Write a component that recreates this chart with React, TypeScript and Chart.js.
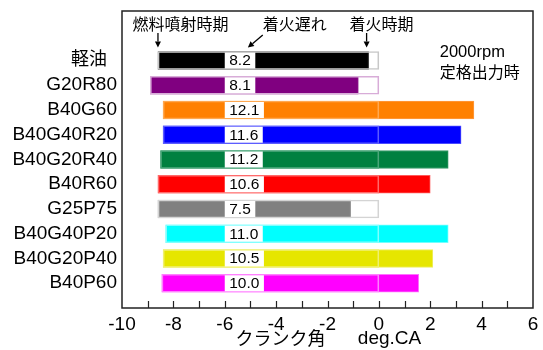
import React, { useEffect, useRef } from 'react';
import { Chart, registerables } from 'chart.js';

Chart.register(...registerables);

// Fuels, injection timing (deg.CA) and ignition delay (deg.CA)
const categories = ['軽油', 'G20R80', 'B40G60', 'B40G40R20', 'B40G20R40', 'B40R60', 'G25P75', 'B40G40P20', 'B40G20P40', 'B40P60'];
const injectionTiming = [-8.6, -8.9, -8.4, -8.4, -8.5, -8.6, -8.6, -8.3, -8.4, -8.45];
const ignitionDelay = [8.2, 8.1, 12.1, 11.6, 11.2, 10.6, 7.5, 11.0, 10.5, 10.0];
const barColors = ['#000000', '#800080', '#ff8000', '#0000ff', '#008040', '#ff0000', '#808080', '#00ffff', '#e6e600', '#ff00ff'];
const edgeColors = ['#202020', '#8c1c8c', '#ff9a40', '#4a4aff', '#3a9a6a', '#ff5a5a', '#8c8c8c', '#70ffff', '#eeee60', '#ff70ff'];
const outlineColors = ['#c8c8c8', '#d8acd8', '#ffa850', '#5c5cff', '#4aa67a', '#ff6a6a', '#d4d4d4', '#80ffff', '#f0f070', '#ff80ff'];
const xMin = -10;
const xMax = 6;
const xLabelStep = 2;
const delayLabelAt = -6;

const LATIN = "'Liberation Sans', Arial, sans-serif";
const CJK = "'Noto Sans CJK JP', sans-serif";
const MIXED = "'Liberation Sans', 'Noto Sans CJK JP', sans-serif";

const ignitionTiming = injectionTiming.map((s, i) => +(s + ignitionDelay[i]).toFixed(2));

// two empty slots above and one below the fuel list
const yLabels = ['', '', ...categories, ''];
const pad = <T,>(arr: T[]): (T | null)[] => [null, null, ...arr, null];
const isCJK = (s: string) => /[^\x00-\x7f]/.test(s || '');

const decorations = {
  id: 'decorations',
  afterDatasetsDraw(chart: any) {
    const { ctx, chartArea: a, scales } = chart;
    const x = scales.x;
    const meta = chart.getDatasetMeta(1);

    // white boxes stating the ignition delay
    ctx.save();
    ctx.font = `15.5px ${LATIN}`;
    ctx.textBaseline = 'middle';
    ctx.textAlign = 'left';
    ignitionDelay.forEach((d, i) => {
      const el = meta.data[i + 2];
      if (!el) return;
      const txt = d.toFixed(1);
      const w = ctx.measureText(txt).width + 9;
      const left = x.getPixelForValue(delayLabelAt);
      ctx.fillStyle = '#ffffff';
      ctx.fillRect(left, el.y - 8, w, 16);
      ctx.fillStyle = '#000000';
      ctx.fillText(txt, left + 4.5, el.y + 0.5);
    });
    ctx.restore();

    // frame
    ctx.save();
    ctx.strokeStyle = '#222';
    ctx.lineWidth = 1.5;
    ctx.strokeRect(a.left, a.top, a.right - a.left, a.bottom - a.top);
    // inward ticks every degree
    ctx.lineWidth = 1.2;
    ctx.beginPath();
    for (let v = xMin + 1; v < xMax; v++) {
      const px = Math.round(x.getPixelForValue(v)) + 0.5;
      ctx.moveTo(px, a.bottom);
      ctx.lineTo(px, a.bottom - 7);
    }
    ctx.stroke();
    ctx.restore();
  },
  afterDraw(chart: any) {
    const { ctx, chartArea: a, scales } = chart;
    const x = scales.x;
    const meta = chart.getDatasetMeta(1);
    const firstBar = meta.data[2];
    const barTop = firstBar ? firstBar.y - 9 : a.top + 40;

    ctx.save();
    ctx.fillStyle = '#000';
    ctx.strokeStyle = '#000';
    ctx.textBaseline = 'middle';
    ctx.textAlign = 'left';

    // annotations above the first bar
    ctx.font = `16px ${CJK}`;
    ctx.fillText('燃料噴射時期', x.getPixelForValue(-9.59), a.top + 13);
    ctx.fillText('着火遅れ', x.getPixelForValue(-4.52), a.top + 13);
    ctx.fillText('着火時期', x.getPixelForValue(-1.14), a.top + 13);

    const arrow = (x0: number, y0: number, x1: number, y1: number) => {
      const ang = Math.atan2(y1 - y0, x1 - x0);
      const head = 6;
      const hx = x1 - head * Math.cos(ang);
      const hy = y1 - head * Math.sin(ang);
      ctx.lineWidth = 1.3;
      ctx.beginPath();
      ctx.moveTo(x0, y0);
      ctx.lineTo(hx, hy);
      ctx.stroke();
      ctx.beginPath();
      ctx.moveTo(x1, y1);
      ctx.lineTo(hx + 3 * Math.sin(ang), hy - 3 * Math.cos(ang));
      ctx.lineTo(hx - 3 * Math.sin(ang), hy + 3 * Math.cos(ang));
      ctx.closePath();
      ctx.fill();
    };
    const xs = x.getPixelForValue(injectionTiming[0]);
    const xi = x.getPixelForValue(ignitionTiming[0]) - 2;
    arrow(xs, a.top + 22, xs, barTop - 4);
    arrow(x.getPixelForValue(-4.52), a.top + 24, x.getPixelForValue(-5.1), barTop - 4);
    arrow(xi, a.top + 22, xi, barTop - 4);

    // operating condition
    ctx.font = `16.5px ${LATIN}`;
    ctx.fillText('2000rpm', x.getPixelForValue(2.37), a.top + 41);
    ctx.font = `16px ${CJK}`;
    ctx.fillText('定格出力時', x.getPixelForValue(2.37), a.top + 61);

    // axis title
    const cx = (a.left + a.right) / 2;
    ctx.textAlign = 'center';
    ctx.font = `18px ${CJK}`;
    ctx.fillText('クランク角', cx - 47, a.bottom + 30);
    ctx.font = `19px ${LATIN}`;
    ctx.fillText('deg.CA', cx + 62, a.bottom + 31);
    ctx.restore();
  },
};

export default function App() {
  const canvasRef = useRef<HTMLCanvasElement | null>(null);

  useEffect(() => {
    if (!canvasRef.current) return;
    const chart = new Chart(canvasRef.current, {
      type: 'bar',
      data: {
        labels: yLabels,
        datasets: [
          {
            // outline from injection to TDC
            label: 'outline',
            data: pad(injectionTiming.map((s) => [s, 0])) as any,
            backgroundColor: 'rgba(255,255,255,0)',
            borderColor: pad(outlineColors) as any,
            borderWidth: 1,
            borderSkipped: false,
            grouped: false,
            barThickness: 18,
            order: 0,
          },
          {
            // ignition delay period
            label: 'delay',
            data: pad(injectionTiming.map((s, i) => [s, ignitionTiming[i]])) as any,
            backgroundColor: pad(barColors) as any,
            borderColor: pad(edgeColors) as any,
            borderWidth: 1,
            borderSkipped: false,
            grouped: false,
            barThickness: 18,
            order: 1,
          },
        ],
      },
      options: {
        indexAxis: 'y',
        animation: false,
        responsive: false,
        devicePixelRatio: 1,
        layout: { padding: { top: 11, right: 10, left: 0, bottom: 0 } },
        plugins: { legend: { display: false }, tooltip: { enabled: false } },
        scales: {
          x: {
            type: 'linear',
            min: xMin,
            max: xMax,
            grid: { display: false, drawTicks: false },
            border: { display: false },
            ticks: {
              stepSize: xLabelStep,
              padding: 5,
              color: '#000',
              font: { size: 19, family: LATIN },
              callback: (v: any) => String(v),
            },
            afterFit: (s: any) => {
              s.height = 42;
              s.paddingLeft = 0;
              s.paddingRight = 0;
            },
          },
          y: {
            type: 'category',
            offset: false,
            grid: { display: false, drawTicks: false },
            border: { display: false },
            ticks: {
              padding: 5,
              color: '#000',
              autoSkip: false,
              font: (c: any) => ({ size: isCJK(yLabels[c.index]) ? 18 : 19, family: MIXED }),
              callback: (_v: any, i: number) => (isCJK(yLabels[i]) ? yLabels[i] + '  ' : yLabels[i]),
            },
            afterFit: (s: any) => {
              s.width = 122;
              s.paddingTop = 0;
              s.paddingBottom = 0;
            },
          },
        },
      },
      plugins: [decorations],
    });
    return () => chart.destroy();
  }, []);

  return (
    <div style={{ position: 'absolute', left: 0, top: 0, width: 543, height: 350, background: '#fff' }}>
      <canvas ref={canvasRef} width={543} height={350} />
    </div>
  );
}
